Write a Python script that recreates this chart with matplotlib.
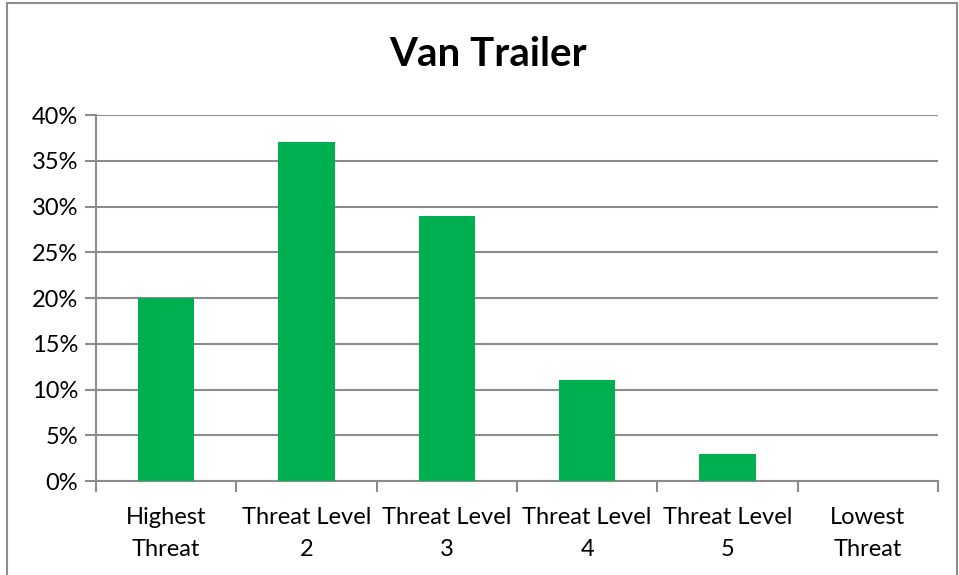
import matplotlib
matplotlib.use("Agg")
import matplotlib.pyplot as plt
from matplotlib.patches import Rectangle
from matplotlib.ticker import FuncFormatter

# Data
categories = ["Highest\nThreat", "Threat Level\n2", "Threat Level\n3",
              "Threat Level\n4", "Threat Level\n5", "Lowest\nThreat"]
values = [20, 37, 29, 11, 3, 0]  # percent

green = "#00B050"
grid_gray = "#8C8C8C"

plt.rcParams['font.family'] = ['Lato', 'DejaVu Sans']

fig = plt.figure(figsize=(9.59, 5.75), dpi=100)
ax = fig.add_axes([96 / 959, 1 - 481 / 575, (938 - 96) / 959, (481 - 115) / 575])

x = list(range(len(categories)))
ax.bar(x, values, width=0.4, color=green, zorder=3)

ax.set_xlim(-0.5, len(categories) - 0.5)
ax.set_ylim(0, 40)
ax.set_yticks(range(0, 41, 5))
ax.yaxis.set_major_formatter(FuncFormatter(lambda v, p: f"{int(v)}%"))
ax.yaxis.grid(True, color=grid_gray, linewidth=1.5, zorder=0)

ax.set_xticks(x)
ax.set_xticklabels(categories, fontsize=17, linespacing=1.65)
ax.set_xticks([i - 0.5 for i in range(len(categories) + 1)], minor=True)
ax.tick_params(axis='x', which='major', length=0, pad=19)
ax.tick_params(axis='x', which='minor', length=8, width=1.5, color=grid_gray, direction='out')
ax.tick_params(axis='y', length=8, width=1.5, color=grid_gray, labelsize=17, pad=5)

for side in ['top', 'right']:
    ax.spines[side].set_visible(False)
for side in ['left', 'bottom']:
    ax.spines[side].set_color(grid_gray)
    ax.spines[side].set_linewidth(1.5)

fig.text(488 / 959, 1 - 55 / 575, "Van Trailer", ha='center', va='center',
         fontsize=29, fontweight='bold')

# outer chart border
fig.patches.append(Rectangle((7 / 959, -0.05), (957 - 7) / 959, 1 - 3 / 575 + 0.05,
                             transform=fig.transFigure, fill=False,
                             edgecolor="#8C8C8C", linewidth=1.5))

fig.savefig("out.png", dpi=100)
